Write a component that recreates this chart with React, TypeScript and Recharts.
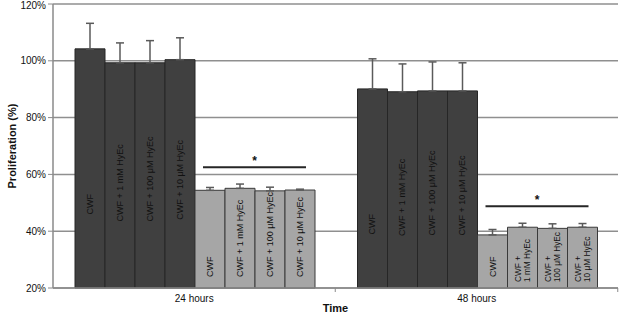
import { BarChart, Bar, XAxis, YAxis, CartesianGrid, ErrorBar, LabelList } from 'recharts';

const categories = ['24 hours', '48 hours'];
const treatments = ['CWF', 'CWF + 1 mM HyEc', 'CWF + 100 μM HyEc', 'CWF + 10 μM HyEc'];
// text written inside the bars, per category (light bars at 48 h are wrapped)
const darkText = [treatments, treatments];
const lightText = [treatments, ['CWF', 'CWF +\n1 mM HyEc', 'CWF +\n100 μM HyEc', 'CWF +\n10 μM HyEc']];

// per treatment: [24 hours, 48 hours]
const darkMeans = [[104.2, 90.1], [99.3, 89.1], [99.3, 89.4], [100.4, 89.4]];
const darkErrors = [[9.0, 10.6], [7.0, 9.8], [7.8, 10.2], [7.7, 9.9]];
const lightMeans = [[54.4, 38.7], [55.1, 41.4], [54.2, 41.0], [54.5, 41.4]];
const lightErrors = [[1.0, 1.9], [1.5, 1.4], [1.3, 1.6], [0.3, 1.3]];
// significance bracket height per category
const sigLevel = [62.5, 48.8];

const yTicks = [20, 40, 60, 80, 100, 120];
const Y_MIN = 20;

const data = categories.map((time, i) => {
  const row: any = { time, sig: sigLevel[i] };
  treatments.forEach((_, t) => {
    row[`d${t}`] = darkMeans[t][i];
    row[`de${t}`] = [0, darkErrors[t][i]];
    row[`l${t}`] = lightMeans[t][i];
    row[`le${t}`] = [0, lightErrors[t][i]];
  });
  return row;
});

const FONT = '"Liberation Sans", Arial, sans-serif';
const DARK = '#404040';
const LIGHT = '#a6a6a6';

const barText = (texts: string[][], t: number) => (p: any) => {
  const { x, y, width, height, index } = p;
  const lines = texts[index][t].split('\n');
  const wrapped = lines.length > 1;
  const cx = x + width / 2;
  const bottom = y + height;
  const sy = wrapped ? bottom - 6 : Math.min(y + height / 2 + 46, bottom - 11);
  const size = wrapped ? 8.3 : 9;
  return (
    <g>
      {lines.map((s, k) => {
        const lx = cx + (k - (lines.length - 1) / 2) * 9.5;
        return (
          <text key={k} x={lx} y={sy} transform={`rotate(-90 ${lx} ${sy})`} textAnchor="start"
            dominantBaseline="central" fontSize={size} fontFamily={FONT} fill="#111">{s}</text>
        );
      })}
    </g>
  );
};

// significance bracket spanning the four light bars of a category
const sigMark = (p: any) => {
  const { x, y, width, height, index, value } = p;
  const bottom = y + height;
  const perUnit = height / (value - Y_MIN);
  const ly = bottom - (sigLevel[index] - Y_MIN) * perUnit;
  const x1 = x + 8;
  const x2 = x + 4 * width - 9;
  return (
    <g>
      <line x1={x1} x2={x2} y1={ly} y2={ly} stroke="#262626" strokeWidth={2} />
      <text x={(x1 + x2) / 2} y={ly - 2} textAnchor="middle" fontSize={12} fontWeight="bold" fontFamily={FONT} fill="#111">*</text>
    </g>
  );
};

const xTick = (p: any) => {
  const { x, y, payload } = p;
  return (
    <g>
      <text x={x} y={y + 14} textAnchor="middle" fontSize={10} fontFamily={FONT} fill="#111">{payload.value}</text>
      <line x1={x + 141} x2={x + 141} y1={y} y2={y + 4} stroke="#8a8a8a" />
    </g>
  );
};

const yLabel = (p: any) => {
  const vb = p.viewBox;
  const cx = vb.x + 12;
  const cy = vb.y + vb.height / 2;
  return (
    <text x={cx} y={cy} transform={`rotate(-90 ${cx} ${cy})`} textAnchor="middle" dominantBaseline="central"
      fontSize={11} fontWeight="bold" fontFamily={FONT} fill="#111">Proliferation (%)</text>
  );
};

const xLabel = (p: any) => {
  const vb = p.viewBox;
  return (
    <text x={vb.x + vb.width / 2} y={312} textAnchor="middle" fontSize={11} fontWeight="bold" fontFamily={FONT} fill="#111">Time</text>
  );
};

export default function App() {
  return (
    <div style={{ position: 'absolute', left: 0, top: 0, background: '#fff' }}>
      <BarChart width={620} height={315} data={data} margin={{ top: 4, right: 2, left: 0, bottom: 0 }}
        barGap={0} barCategoryGap={22}>
        <CartesianGrid vertical={false} stroke="#8f8f8f" strokeWidth={1.5} />
        <XAxis dataKey="time" height={27} tickLine={false} tickSize={0} tickMargin={0} interval={0}
          axisLine={{ stroke: '#8a8a8a', strokeWidth: 1.5 }} tick={xTick} label={xLabel} />
        <YAxis domain={[Y_MIN, 120]} ticks={yTicks} width={53} tickSize={5} tickMargin={2}
          tickFormatter={(v) => `${v}%`} axisLine={{ stroke: '#8a8a8a', strokeWidth: 1.5 }}
          tickLine={{ stroke: '#8a8a8a' }} tick={{ fill: '#111', fontSize: 10, fontFamily: FONT }} label={yLabel} />
        {treatments.map((_, t) => (
          <Bar key={`d${t}`} dataKey={`d${t}`} fill={DARK} stroke="#262626" strokeWidth={1} isAnimationActive={false}>
            <ErrorBar dataKey={`de${t}`} width={4} stroke="#5a5a5a" strokeWidth={1.5} direction="y" />
            <LabelList content={barText(darkText, t)} />
          </Bar>
        ))}
        {treatments.map((_, t) => (
          <Bar key={`l${t}`} dataKey={`l${t}`} fill={LIGHT} stroke="#3a3a3a" strokeWidth={1} isAnimationActive={false}>
            <ErrorBar dataKey={`le${t}`} width={4} stroke="#5a5a5a" strokeWidth={1.5} direction="y" />
            <LabelList content={barText(lightText, t)} />
            {t === 0 && <LabelList dataKey="l0" content={sigMark} />}
          </Bar>
        ))}
      </BarChart>
    </div>
  );
}
